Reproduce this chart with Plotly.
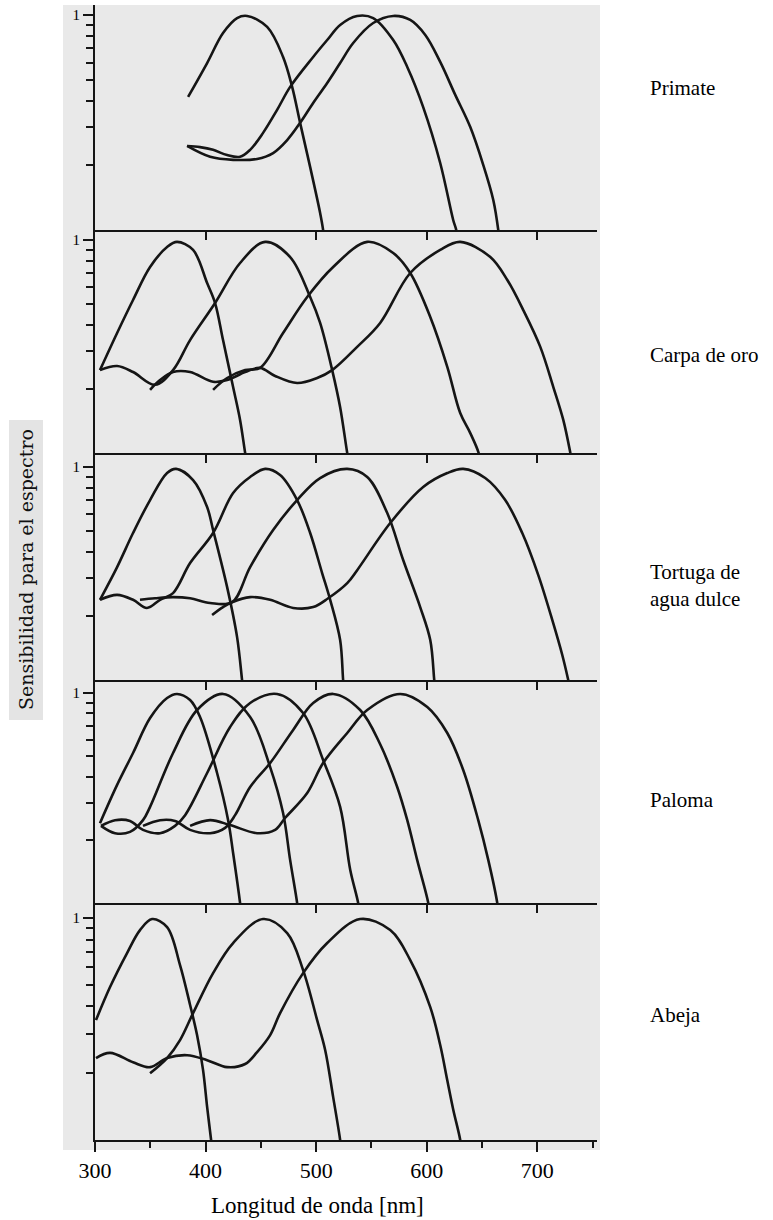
import plotly.graph_objects as go

# ---------------- data ----------------
x_major = [300, 400, 500, 600, 700]
x_major_labels = ["300", "400", "500", "600", "700"]
x_minor = [350, 450, 550, 650, 750]
x_upper_ticks = [400, 500, 600, 700]
y_major = [1]
y_major_labels = ["1"]
y_minor = [0.2, 0.3, 0.4, 0.5, 0.6, 0.7, 0.8, 0.9]

species = ["Primate", "Carpa de oro", "Tortuga de<br>agua dulce", "Paloma", "Abeja"]
x_title = "Longitud de onda [nm]"
y_title = "Sensibilidad para el espectro"

# Primate
primate_s_wl = [384.2, 401.4, 415.8, 428.5, 437.6, 455.7, 470.1, 478.3, 485.5, 494.6, 503.6, 506.3, 507.2]
primate_s_val = [0.416, 0.598, 0.825, 0.968, 0.99, 0.880, 0.638, 0.463, 0.315, 0.196, 0.120, 0.1, 0.09]
primate_m_wl = [383.3, 395, 406.8, 419.5, 431.2, 440.3, 452, 464.7, 476.5, 497.3, 510, 521.7, 537.1, 551.6, 569.7, 582.4, 596.8, 612.2, 624, 626.7, 627.6]
primate_m_val = [0.246, 0.243, 0.236, 0.223, 0.219, 0.236, 0.283, 0.362, 0.463, 0.638, 0.765, 0.899, 0.99, 0.968, 0.765, 0.573, 0.373, 0.205, 0.111, 0.1, 0.09]
primate_l_wl = [383.3, 404.1, 424.9, 446.6, 461.1, 473.8, 485.5, 497.3, 510, 521.7, 533.5, 551.6, 569.7, 585.1, 598.7, 612.2, 625.8, 639.4, 651.1, 660.2, 664.7, 665.6]
primate_l_val = [0.246, 0.219, 0.212, 0.214, 0.228, 0.262, 0.315, 0.390, 0.483, 0.598, 0.741, 0.918, 0.99, 0.948, 0.807, 0.605, 0.425, 0.301, 0.201, 0.138, 0.1, 0.09]

# Carpa de oro
carpa_uv_wl = [304.5, 320, 334.4, 349.8, 365.2, 374.2, 388.7, 401.4, 408.6, 415.8, 424.9, 431.2, 435.8, 437.6]
carpa_uv_val = [0.245, 0.366, 0.523, 0.747, 0.927, 0.98, 0.898, 0.628, 0.506, 0.339, 0.204, 0.143, 0.1, 0.088]
carpa_b_wl = [304.5, 320, 334.4, 354.3, 370.6, 386, 408.6, 431.2, 453.9, 476.5, 494.6, 503.6, 514.5, 521.7, 528.1, 530]
carpa_b_val = [0.245, 0.256, 0.240, 0.209, 0.245, 0.339, 0.506, 0.780, 0.98, 0.832, 0.540, 0.408, 0.245, 0.164, 0.1, 0.088]
carpa_g_wl = [406.8, 419.5, 435.8, 449.3, 470.1, 491.9, 515.4, 546.2, 569.7, 585.1, 603.2, 618.6, 630.3, 639.4, 647, 649]
carpa_g_val = [0.198, 0.225, 0.245, 0.251, 0.366, 0.540, 0.747, 0.98, 0.869, 0.700, 0.435, 0.254, 0.154, 0.124, 0.1, 0.088]
carpa_r_wl = [349.8, 358.8, 370.6, 386, 406.8, 419.5, 435.8, 449.3, 462.9, 482.8, 500.9, 514.5, 537.1, 557.9, 585.1, 612.2, 630.3, 657.5, 672.9, 687.3, 702.7, 714.5, 723.5, 729.9, 731.8]
carpa_r_val = [0.198, 0.220, 0.240, 0.240, 0.216, 0.220, 0.240, 0.251, 0.230, 0.213, 0.225, 0.245, 0.315, 0.408, 0.700, 0.898, 0.98, 0.832, 0.649, 0.469, 0.315, 0.204, 0.143, 0.1, 0.088]

# Tortuga de agua dulce
tortuga_uv_wl = [304.5, 320, 334.4, 349.8, 365.2, 373.3, 388.7, 401.4, 406.8, 419.5, 428.5, 433, 434]
tortuga_uv_val = [0.238, 0.339, 0.490, 0.700, 0.937, 0.98, 0.869, 0.649, 0.506, 0.273, 0.159, 0.1, 0.09]
tortuga_b_wl = [304.5, 320, 334.4, 347, 358.8, 370.6, 386, 406.8, 424.9, 440.3, 453.9, 467.4, 482.8, 494.6, 505.4, 512.7, 521.7, 524.4, 525.3]
tortuga_b_val = [0.238, 0.251, 0.238, 0.218, 0.238, 0.256, 0.354, 0.490, 0.755, 0.898, 0.98, 0.917, 0.700, 0.490, 0.318, 0.238, 0.154, 0.1, 0.09]
tortuga_g_wl = [340.7, 354.3, 370.6, 386, 404.1, 424, 440.3, 461.1, 482.8, 503.6, 528.1, 546.2, 564.3, 578.7, 594.1, 603.2, 606.8, 607.7]
tortuga_g_val = [0.238, 0.242, 0.245, 0.242, 0.230, 0.232, 0.339, 0.506, 0.700, 0.888, 0.98, 0.898, 0.608, 0.366, 0.220, 0.154, 0.1, 0.09]
tortuga_r_wl = [405.9, 415.8, 424, 440.3, 458.4, 479.2, 497.3, 510.9, 528.1, 537.1, 567, 596.8, 618.6, 633, 652.9, 671, 686.4, 700.9, 713.6, 722.6, 728, 729.9]
tortuga_r_val = [0.202, 0.220, 0.232, 0.245, 0.238, 0.218, 0.220, 0.242, 0.285, 0.328, 0.546, 0.806, 0.937, 0.98, 0.888, 0.700, 0.490, 0.311, 0.191, 0.131, 0.1, 0.09]

# Paloma
paloma_1_wl = [304.5, 320, 334.4, 349.8, 365.2, 374.2, 386, 395, 410.4, 420.4, 424.9, 431.2, 432.1]
paloma_1_val = [0.240, 0.365, 0.518, 0.760, 0.947, 0.99, 0.926, 0.769, 0.416, 0.248, 0.173, 0.1, 0.09]
paloma_2_wl = [305.4, 318.1, 331.7, 343.4, 349.8, 370.6, 392.3, 415.8, 440.3, 458.4, 470.1, 476.5, 482.8, 483.7]
paloma_2_val = [0.233, 0.215, 0.218, 0.248, 0.287, 0.518, 0.830, 0.99, 0.769, 0.444, 0.268, 0.160, 0.1, 0.09]
paloma_3_wl = [305.4, 318.1, 331.7, 343.4, 358.8, 372.4, 381.5, 401.4, 422.2, 440.3, 464.7, 488.2, 506.3, 521.7, 530.8, 538, 538.9]
paloma_3_val = [0.233, 0.248, 0.246, 0.223, 0.215, 0.233, 0.262, 0.416, 0.689, 0.896, 0.99, 0.803, 0.480, 0.287, 0.144, 0.1, 0.09]
paloma_4_wl = [343.4, 358.8, 372.4, 386, 404.1, 417.7, 426.7, 440.3, 458.4, 479.2, 497.3, 515.4, 539.8, 557.9, 573.3, 582.4, 591.4, 601.4, 602.3]
paloma_4_val = [0.233, 0.248, 0.246, 0.223, 0.215, 0.228, 0.262, 0.357, 0.464, 0.667, 0.896, 0.99, 0.830, 0.570, 0.357, 0.248, 0.160, 0.1, 0.09]
paloma_5_wl = [386, 404.1, 422.2, 446.6, 462.9, 471.9, 491.9, 506.3, 528.1, 546.2, 576, 600.5, 618.6, 633, 646.6, 655.7, 663.8, 664.7]
paloma_5_val = [0.233, 0.248, 0.235, 0.215, 0.223, 0.254, 0.334, 0.464, 0.645, 0.830, 0.99, 0.858, 0.645, 0.430, 0.248, 0.160, 0.1, 0.09]

# Abeja
abeja_uv_wl = [300.9, 313.6, 329, 340.7, 351.6, 365.2, 376.9, 386, 392.3, 397.7, 401.4, 405, 405.9]
abeja_uv_val = [0.347, 0.489, 0.696, 0.883, 0.99, 0.911, 0.614, 0.406, 0.297, 0.207, 0.141, 0.1, 0.09]
abeja_b_wl = [349.8, 365.2, 376.9, 388.7, 406.8, 424.9, 452, 473.8, 488.2, 500.9, 508.2, 515.4, 521.7, 522.6]
abeja_b_val = [0.200, 0.234, 0.282, 0.373, 0.565, 0.772, 0.99, 0.856, 0.583, 0.347, 0.254, 0.156, 0.1, 0.09]
abeja_g_wl = [300.9, 313.6, 334.4, 349.8, 365.2, 383.3, 401.4, 419.5, 435.8, 446.6, 458.4, 467.4, 488.2, 510, 539.8, 567, 585.1, 603.2, 612.2, 618.6, 624, 630.3, 631.2]
abeja_g_val = [0.234, 0.247, 0.224, 0.213, 0.234, 0.241, 0.229, 0.213, 0.220, 0.249, 0.297, 0.373, 0.565, 0.772, 0.99, 0.883, 0.647, 0.397, 0.268, 0.186, 0.137, 0.1, 0.09]

panels = [
    [(primate_s_wl, primate_s_val), (primate_m_wl, primate_m_val), (primate_l_wl, primate_l_val)],
    [(carpa_uv_wl, carpa_uv_val), (carpa_b_wl, carpa_b_val), (carpa_g_wl, carpa_g_val), (carpa_r_wl, carpa_r_val)],
    [(tortuga_uv_wl, tortuga_uv_val), (tortuga_b_wl, tortuga_b_val), (tortuga_g_wl, tortuga_g_val), (tortuga_r_wl, tortuga_r_val)],
    [(paloma_1_wl, paloma_1_val), (paloma_2_wl, paloma_2_val), (paloma_3_wl, paloma_3_val), (paloma_4_wl, paloma_4_val), (paloma_5_wl, paloma_5_val)],
    [(abeja_uv_wl, abeja_uv_val), (abeja_b_wl, abeja_b_val), (abeja_g_wl, abeja_g_val)],
]

# ---------------- layout geometry (pixels) ----------------
W, H = 773, 1220
L, R, T, B = 95, 176, 5, 80
PW = W - L - R
PH = H - T - B


def fx(px):
    return (px - L) / PW


def fy(py):
    return (H - B - py) / PH


edges = [(5, 230), (230, 453), (453, 680), (680, 903), (903, 1140)]
tops = [0.0465, 0.047, 0.066, 0.062, 0.068]
label_y = [88, 355, 585, 800, 1015]

SERIF = "Liberation Serif, Times New Roman, serif"
INK = "#151515"

fig = go.Figure()
layout = dict(
    width=W, height=H,
    margin=dict(l=L, r=R, t=T, b=B, pad=0),
    paper_bgcolor="white",
    plot_bgcolor="rgba(0,0,0,0)",
    showlegend=False,
)

for i, curves in enumerate(panels):
    n = i + 1
    sfx = "" if n == 1 else str(n)
    for wl, val in curves:
        fig.add_trace(go.Scatter(
            x=wl, y=val, mode="lines",
            line=dict(color=INK, width=2.6, shape="spline", smoothing=1.0),
            xaxis="x" + sfx, yaxis="y" + sfx, hoverinfo="skip", showlegend=False,
        ))
    top, bot = edges[i]
    last = (n == len(panels))
    xa = dict(
        range=[300, 754], domain=[0, 1], anchor="y" + sfx,
        showline=True, linecolor=INK, linewidth=2,
        showgrid=False, zeroline=False,
        ticks="outside", tickcolor=INK, tickwidth=1.5,
        tickmode="array",
        tickvals=x_major if last else x_upper_ticks,
        ticktext=x_major_labels if last else [""] * len(x_upper_ticks),
        ticklen=10 if last else 8,
        showticklabels=last,
        tickfont=dict(family=SERIF, size=22, color="black"),
    )
    if last:
        xa["minor"] = dict(tickmode="array", tickvals=x_minor, ticks="outside",
                           ticklen=6, tickcolor=INK, tickwidth=1.5, showgrid=False)
    ya = dict(
        type="log", range=[-1, tops[i]], domain=[fy(bot), fy(top)], anchor="x" + sfx,
        showline=True, linecolor=INK, linewidth=2,
        showgrid=False, zeroline=False,
        ticks="outside", tickcolor=INK, tickwidth=1.5, ticklen=10,
        tickmode="array", tickvals=y_major, ticktext=y_major_labels,
        tickfont=dict(family=SERIF, size=15, color="black"),
        minor=dict(tickmode="array", tickvals=y_minor, ticks="outside",
                   ticklen=7, tickcolor=INK, tickwidth=1.5, showgrid=False),
    )
    layout["xaxis" + sfx] = xa
    layout["yaxis" + sfx] = ya

annotations = []
for i, name in enumerate(species):
    annotations.append(dict(
        text=name, x=fx(648), y=fy(label_y[i]), xref="paper", yref="paper",
        xanchor="left", yanchor="middle", align="left", showarrow=False,
        font=dict(family=SERIF, size=21, color="black"),
    ))
annotations.append(dict(
    text=x_title, x=fx(317), y=fy(1205), xref="paper", yref="paper",
    xanchor="center", yanchor="middle", showarrow=False,
    font=dict(family=SERIF, size=23, color="black"),
))
annotations.append(dict(
    text=y_title, x=fx(26), y=fy(570), xref="paper", yref="paper",
    xanchor="center", yanchor="middle", textangle=-90, showarrow=False,
    font=dict(family="DejaVu Serif, serif", size=19, color="#111"),
))
layout["annotations"] = annotations

# scanned-page grey background
layout["shapes"] = [
    dict(type="rect", xref="paper", yref="paper", layer="below",
         x0=fx(63), x1=fx(600), y0=fy(1150), y1=fy(5),
         fillcolor="#e9e9e9", line=dict(width=0)),
    dict(type="rect", xref="paper", yref="paper", layer="below",
         x0=fx(9), x1=fx(43), y0=fy(720), y1=fy(420),
         fillcolor="#e4e4e4", line=dict(width=0)),
]

fig.update_layout(**layout)
fig.write_html(
    "out.html",
    config={"displayModeBar": False},
    post_script="document.body.style.margin='0';document.body.style.padding='0';",
)
